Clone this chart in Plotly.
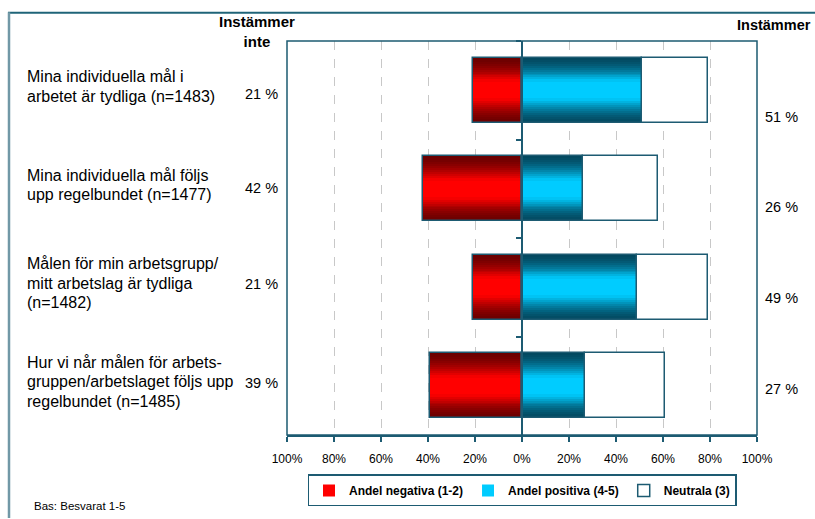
import plotly.graph_objects as go

# --- data -------------------------------------------------------------
questions = [
    "Mina individuella mål i<br>arbetet är tydliga (n=1483)",
    "Mina individuella mål följs<br>upp regelbundet (n=1477)",
    "Målen för min arbetsgrupp/<br>mitt arbetslag är tydliga<br>(n=1482)",
    "Hur vi når målen för arbets-<br>gruppen/arbetslaget följs upp<br>regelbundet (n=1485)",
]
negativa = [21, 42, 21, 39]   # Andel negativa (1-2)
positiva = [51, 26, 49, 27]   # Andel positiva (4-5)
neutrala = [28, 32, 30, 34]   # Neutrala (3)

x_tickvals = [-100, -80, -60, -40, -20, 0, 20, 40, 60, 80, 100]
x_ticktext = ["100%", "80%", "60%", "40%", "20%", "0%", "20%", "40%", "60%", "80%", "100%"]

# --- geometry / style -------------------------------------------------
W, H = 815, 519
L, R, T, B = 287, 757, 41, 440
FONT = "Liberation Sans, Arial, sans-serif"
TEAL = "#1d5b72"
BAR_W = 0.66


def px(x):
    return (x - L) / (R - L)


def py(y):
    return (B - y) / (B - T)


def mix(c1, c2, t):
    a = [int(c1[i:i + 2], 16) for i in (1, 3, 5)]
    b = [int(c2[i:i + 2], 16) for i in (1, 3, 5)]
    return "#" + "".join(f"{round(a[k] + (b[k] - a[k]) * t):02x}" for k in range(3))


fig = go.Figure()

# neutral part sits to the right of the positive part
fig.add_trace(go.Bar(
    y=questions, x=neutrala, base=positiva, orientation="h",
    width=BAR_W, offset=-BAR_W / 2,
    marker=dict(color="#ffffff", line=dict(color=TEAL, width=1.5)),
    name="Neutrala (3)", legendrank=3, hoverinfo="skip",
))


def gradient_bars(xvals, edge, centre, name, rank, steps=12, core=0.18, gamma=1.6):
    """Split each bar into horizontal bands, dark at the rims and bright in the middle."""
    band = (BAR_W - core) / 2 / steps
    # bright core, also the legend entry
    fig.add_trace(go.Bar(
        y=questions, x=xvals, orientation="h", width=core, offset=-core / 2,
        marker=dict(color=centre, line=dict(width=0)),
        name=name, showlegend=True, legendrank=rank, hoverinfo="skip",
    ))
    for k in range(steps):
        col = mix(edge, centre, ((k + 0.5) / steps) ** gamma)
        for sign in (-1, 1):
            start = sign * BAR_W / 2 - sign * k * band
            lo = min(start, start - sign * band * 1.35)
            fig.add_trace(go.Bar(
                y=questions, x=xvals, orientation="h", width=band * 1.35, offset=lo,
                marker=dict(color=col, line=dict(width=0)),
                name=name, showlegend=False, hoverinfo="skip",
            ))
    # outline on top
    fig.add_trace(go.Bar(
        y=questions, x=xvals, orientation="h", width=BAR_W, offset=-BAR_W / 2,
        marker=dict(color="rgba(0,0,0,0)", line=dict(color=TEAL, width=1.5)),
        name=name, showlegend=False, hoverinfo="skip",
    ))


gradient_bars([-v for v in negativa], "#6a0000", "#ff0000", "Andel negativa (1-2)", 1)
gradient_bars(positiva, "#03485f", "#00ccff", "Andel positiva (4-5)", 2)

# --- text -------------------------------------------------------------
ann = []
LS = 19.5
for i, q in enumerate(questions):
    lines = q.split("<br>")
    n = len(lines)
    for j, ln in enumerate(lines):
        ann.append(dict(
            xref="paper", yref="y", x=px(25), y=q, xanchor="left", yanchor="middle",
            text=ln, showarrow=False, yshift=4 + ((n - 1) / 2 - j) * LS,
            font=dict(family=FONT, size=16, color="#000000"),
        ))

left_shift = [-4, 1, 3, 3]
for q, v, s in zip(questions, negativa, left_shift):
    ann.append(dict(
        xref="paper", yref="y", x=px(280), y=q, xanchor="right", yanchor="middle",
        text=f"{v} %", showarrow=False, yshift=s,
        font=dict(family=FONT, size=14.5, color="#000000"),
    ))

right_shift = [-27, -18, -11, -3]
for q, v, s in zip(questions, positiva, right_shift):
    ann.append(dict(
        xref="paper", yref="y", x=px(763), y=q, xanchor="left", yanchor="middle",
        text=f"{v} %", showarrow=False, yshift=s,
        font=dict(family=FONT, size=14.5, color="#000000"),
    ))

ann += [
    dict(xref="paper", yref="paper", x=px(257), y=py(31), xanchor="center", yanchor="middle",
         text="<b>Instämmer<br>inte</b>", showarrow=False,
         font=dict(family=FONT, size=15, color="#000000")),
    dict(xref="paper", yref="paper", x=px(735), y=py(25), xanchor="left", yanchor="middle",
         text="<b>Instämmer</b>", showarrow=False,
         font=dict(family=FONT, size=14.5, color="#000000")),
    dict(xref="paper", yref="paper", x=px(32), y=py(512), xanchor="left", yanchor="middle",
         text="Bas: Besvarat 1-5", showarrow=False,
         font=dict(family=FONT, size=11.5, color="#000000")),
]

shapes = [
    # outer frame: top rule and left rule
    dict(type="line", xref="paper", yref="paper", x0=px(8), x1=px(W + 5), y0=py(12.5), y1=py(12.5),
         line=dict(color="#1f6478", width=2)),
    dict(type="line", xref="paper", yref="paper", x0=px(9), x1=px(9), y0=py(12), y1=py(H + 5),
         line=dict(color="#7198a6", width=2.5)),
    # plot box
    dict(type="rect", xref="paper", yref="paper", x0=0, x1=1, y0=0, y1=1,
         line=dict(color=TEAL, width=1.5), layer="above"),
]

fig.update_layout(
    width=W, height=H,
    margin=dict(l=L, r=W - R, t=T, b=H - B),
    paper_bgcolor="#ffffff", plot_bgcolor="#ffffff",
    barmode="overlay", bargap=0,
    showlegend=True,
    legend=dict(
        orientation="h", x=0.5, xanchor="center", y=py(480), yanchor="top",
        bordercolor=TEAL, borderwidth=1.5, bgcolor="#ffffff",
        font=dict(family=FONT, size=12, color="#000000", weight="bold"),
        itemwidth=30, tracegroupgap=0, traceorder="normal",
    ),
    annotations=ann, shapes=shapes,
    xaxis=dict(
        range=[-100, 100], tickvals=x_tickvals, ticktext=x_ticktext,
        showgrid=True, gridcolor="#c8c8c8", griddash="dash", gridwidth=1,
        zeroline=False, showline=True, linecolor=TEAL, linewidth=1.5,
        ticks="outside", ticklen=5, tickcolor=TEAL, tickwidth=1.5,
        tickfont=dict(family=FONT, size=12, color="#000000"),
        ticklabelstandoff=7, fixedrange=True,
    ),
    yaxis=dict(
        type="category", categoryorder="array", categoryarray=questions,
        range=[3.5, -0.5], anchor="free", position=0.5,
        showline=True, linecolor=TEAL, linewidth=1.5,
        ticks="outside", ticklen=5, tickcolor=TEAL, tickwidth=1.5,
        tickson="boundaries", showticklabels=False, showgrid=False, zeroline=False,
        fixedrange=True,
    ),
)

fig.write_html("out.html")
